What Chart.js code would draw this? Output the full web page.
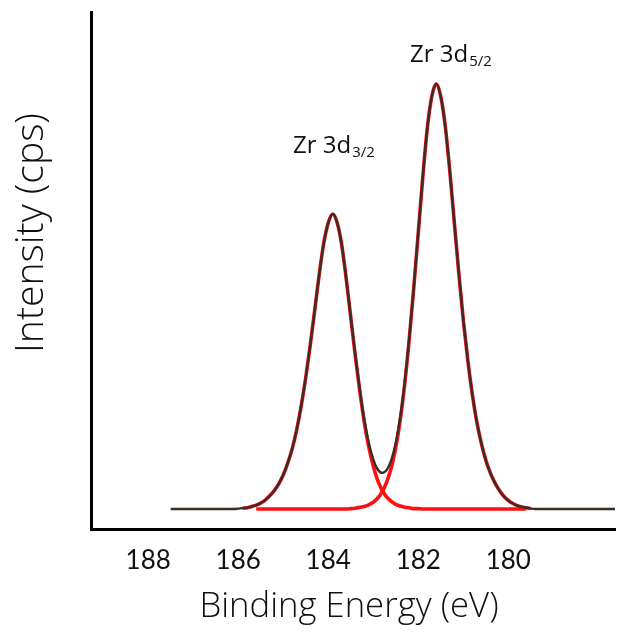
<!DOCTYPE html>
<html>
<head>
<meta charset="utf-8">
<script src="https://cdn.jsdelivr.net/npm/chart.js@4.4.0/dist/chart.umd.min.js"></script>
<style>
  html, body { margin: 0; padding: 0; background: #fff; }
  #wrap { width: 639px; height: 639px; }
</style>
</head>
<body>
<div id="wrap"><canvas id="xps"></canvas></div>
<script>
// binding energy (eV) and intensity
const envelopeEnergy = [
  187.5, 186.2,
  186.1, 186.0, 185.9, 185.8, 185.7, 185.6, 185.5, 185.4, 185.3, 185.2,
  185.1, 185.0, 184.9, 184.8, 184.7, 184.6, 184.5, 184.4, 184.3, 184.2,
  184.1, 184.0, 183.9, 183.8, 183.7, 183.6, 183.5, 183.4, 183.3, 183.2,
  183.1, 183.0, 182.9, 182.8, 182.7, 182.6, 182.5, 182.4, 182.3, 182.2,
  182.1, 182.0, 181.9, 181.8, 181.7, 181.6, 181.5, 181.4, 181.3, 181.2,
  181.1, 181.0, 180.9, 180.8, 180.7, 180.6, 180.5, 180.4, 180.3, 180.2,
  180.1, 180.0, 179.9, 179.8, 179.7, 179.6, 179.5, 179.4,
  177.63
];
const envelopeCounts = [
  0, 0,
  0, 0.1, 0.2, 0.3, 0.6, 0.9, 1.4, 2.1, 3.1, 4.3,
  5.9, 8.0, 10.8, 14.2, 18.7, 24.3, 30.9, 38.5, 46.8, 55.2,
  62.5, 67.3, 69.4, 67.3, 62.1, 54.1, 45.2, 36.3, 28.2, 21.1,
  15.6, 11.7, 9.3, 8.5, 9.2, 11.5, 15.6, 21.7, 29.9, 40.3,
  52.1, 65.1, 78.0, 89.5, 97.0, 100, 97.0, 90.0, 79.5, 67.5,
  55.5, 44.5, 35.0, 27.0, 20.5, 15.5, 11.5, 8.5, 6.2, 4.4,
  3.0, 2.0, 1.3, 0.8, 0.5, 0.3, 0.1, 0,
  0
];

// Zr 3d3/2 component
const peak1Energy = [
  185.9, 185.8, 185.7, 185.6, 185.5, 185.4, 185.3, 185.2, 185.1, 185.0,
  184.9, 184.8, 184.7, 184.6, 184.5, 184.4, 184.3, 184.2, 184.1, 184.0,
  183.9, 183.8, 183.7, 183.6, 183.5, 183.4, 183.3, 183.2, 183.1, 183.0,
  182.9, 182.8, 182.7, 182.6, 182.5, 182.4, 182.3, 182.2, 182.1, 182.0,
  181.9, 179.6
];
const peak1Counts = [
  0.2, 0.3, 0.6, 0.9, 1.4, 2.1, 3.1, 4.3, 5.9, 8.0,
  10.8, 14.2, 18.7, 24.3, 30.9, 38.5, 46.8, 55.2, 62.5, 67.3,
  69.4, 67.3, 62.1, 54.1, 45.1, 36.1, 27.8, 20.5, 14.6, 10.1,
  6.7, 4.4, 2.8, 1.8, 1.1, 0.7, 0.4, 0.3, 0.1, 0.1,
  0, 0
];

// Zr 3d5/2 component
const peak2Energy = [
  185.6, 183.6, 183.5, 183.4, 183.3, 183.2, 183.1, 183.0, 182.9, 182.8,
  182.7, 182.6, 182.5, 182.4, 182.3, 182.2, 182.1, 182.0, 181.9, 181.8,
  181.7, 181.6, 181.5, 181.4, 181.3, 181.2, 181.1, 181.0, 180.9, 180.8,
  180.7, 180.6, 180.5, 180.4, 180.3, 180.2, 180.1, 180.0, 179.9, 179.8,
  179.7, 179.6, 179.5
];
const peak2Counts = [
  0, 0, 0.1, 0.2, 0.4, 0.6, 1.0, 1.6, 2.6, 4.1,
  6.4, 9.7, 14.5, 21.0, 29.5, 40.0, 52.0, 65.0, 78.0, 89.5,
  97.0, 100, 97.0, 90.0, 79.5, 67.5, 55.5, 44.5, 35.0, 27.0,
  20.5, 15.5, 11.5, 8.5, 6.2, 4.4, 3.0, 2.0, 1.3, 0.8,
  0.5, 0.3, 0.1
];

const tickLabels = [188, 186, 184, 182, 180];
const xTitle = "Binding Energy (eV)";
const yTitle = "Intensity (cps)";
const peakNames = ["Zr 3d", "Zr 3d"];
const peakSubs = ["3/2", "5/2"];

const toPoints = (xs, ys) => xs.map((x, i) => ({ x: x, y: ys[i] }));

// fit a font size so the text gets the wanted width
const fitFont = (ctx, text, family, weight, width) => {
  ctx.font = weight + " 40px " + family;
  const size = 40 * width / ctx.measureText(text).width;
  return weight + " " + size.toFixed(1) + "px " + family;
};

const textPlugin = {
  id: "texts",
  afterDraw(chart) {
    const ctx = chart.ctx;
    ctx.save();
    ctx.fillStyle = "#111";
    ctx.textBaseline = "alphabetic";

    ctx.textAlign = "center";
    ctx.font = fitFont(ctx, xTitle, '"Open Sans"', "300", 299);
    ctx.fillText(xTitle, 349, 617);

    ctx.save();
    ctx.translate(43, 233);
    ctx.rotate(-Math.PI / 2);
    ctx.font = fitFont(ctx, yTitle, '"Open Sans"', "300", 240);
    ctx.fillText(yTitle, 0, 0);
    ctx.restore();

    // peak labels
    ctx.textAlign = "left";
    const spots = [[293, 153], [410, 62]];
    peakNames.forEach((name, i) => {
      const [x, y] = spots[i];
      ctx.font = '24px "Open Sans"';
      ctx.fillText(name, x, y);
      const w = ctx.measureText(name).width;
      ctx.font = '15px "Open Sans"';
      ctx.fillText(peakSubs[i], x + w + 1, y + 4);
    });
    ctx.restore();
  }
};

const config = {
  type: "line",
  data: {
    datasets: [
      {
        label: "Envelope",
        data: toPoints(envelopeEnergy, envelopeCounts),
        borderColor: "#3b2c27",
        borderWidth: 2.4,
        pointRadius: 0,
        cubicInterpolationMode: "monotone",
        fill: false,
      },
      {
        label: "Zr 3d3/2",
        data: toPoints(peak1Energy, peak1Counts),
        borderColor: "#ff1010",
        borderWidth: 3.6,
        pointRadius: 0,
        cubicInterpolationMode: "monotone",
        fill: false,
      },
      {
        label: "Zr 3d5/2",
        data: toPoints(peak2Energy, peak2Counts),
        borderColor: "#ff1010",
        borderWidth: 3.6,
        pointRadius: 0,
        cubicInterpolationMode: "monotone",
        fill: false,
      },
    ],
  },
  options: {
    responsive: true,
    maintainAspectRatio: false,
    animation: false,
    layout: {
      padding: { left: 91, top: 12, right: 24, bottom: 0 },
    },
    plugins: {
      legend: false,
      tooltip: { enabled: false },
    },
    scales: {
      x: {
        type: "linear",
        reverse: true,
        min: 177.63,
        max: 189.27,
        afterBuildTicks: (scale) => {
          scale.ticks = tickLabels.map((v) => ({ value: v }));
        },
        afterFit: (scale) => {
          scale.height = 110;
        },
        ticks: {
          autoSkip: false,
          maxRotation: 0,
          padding: 16,
          color: "#111",
          font: { family: "Lato", size: 26 },
        },
        grid: { display: false, drawTicks: false },
        border: { color: "#000", width: 3 },
      },
      y: {
        min: -4.7,
        max: 116.9,
        afterFit: (scale) => {
          scale.width = 0;
        },
        ticks: { display: false },
        grid: { display: false, drawTicks: false },
        border: { color: "#000", width: 3 },
      },
    },
  },
  plugins: [textPlugin],
};

new Chart(document.getElementById("xps"), config);
</script>
</body>
</html>
